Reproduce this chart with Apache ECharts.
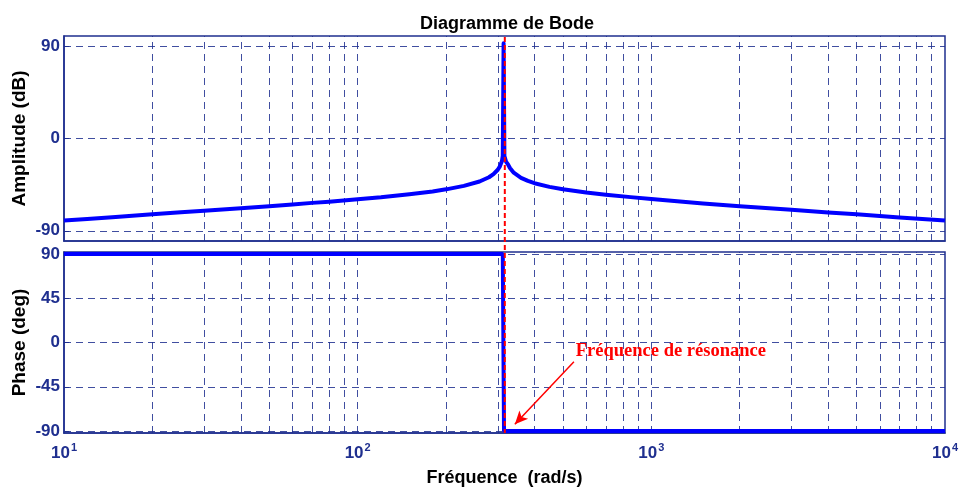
<!DOCTYPE html>
<html>
<head>
<meta charset="utf-8">
<script src="https://cdn.jsdelivr.net/npm/echarts@6/dist/echarts.min.js"></script>
<style>
  html, body { margin: 0; padding: 0; background: #ffffff; }
  #chart { width: 960px; height: 489px; }
</style>
</head>
<body>
<div id="chart"></div>
<script>
// Bode diagram of a resonant circuit: amplitude (dB) and phase (deg) vs. frequency (rad/s)

// Amplitude response
const ampFreq = [10, 12, 15, 20, 25, 30, 40, 50, 60, 70, 80, 100, 120, 150, 180, 200, 230,
                 260, 280, 290, 300, 305, 310, 312,
                 314, 316, 320, 325, 330, 340, 360, 380, 400, 450, 500, 600, 700, 850,
                 1000, 1500, 2000, 3000, 4000, 5000, 7000, 10000];
const ampDb   = [-80, -78.5, -76.5, -74, -72, -70.5, -68, -66, -64.3, -62.8, -61.6, -59.2, -57.4, -54.4, -51.7, -49.6, -46.2,
                 -42, -37.8, -34.8, -30.5, -27.2, -22, -17,
                 93, -17, -22.5, -25.2, -28.8, -33.4, -38.4, -41.4, -43.6, -47.2, -49.5, -52.7, -54.9, -57.2,
                 -59, -63.4, -66.1, -69.6, -72.1, -74, -77, -80];

// Phase response
const phaseFreq = [10, 312, 315, 10000];
const phaseDeg  = [90, 90, -90, -90];

// Resonance marker
const resonanceFreq = 317;

// Axis ticks
const ampTicks   = [-90, 0, 90];
const phaseTicks = [-90, -45, 0, 45, 90];
const freqGrid   = [20, 30, 40, 50, 60, 70, 80, 90, 100,
                    200, 300, 400, 500, 600, 700, 800, 900, 1000,
                    2000, 3000, 4000, 5000, 6000, 7000, 8000, 9000];

const NAVY = '#1f2f8f';
const SANS = '"Liberation Sans", Arial, Helvetica, sans-serif';

const gridLine = { color: NAVY, type: [7, 5], width: 1, opacity: 0.85 };

function gridMarks(yVals) {
  const v = freqGrid.map(f => ({ xAxis: f }));
  const h = yVals.map(y => ({ yAxis: y }));
  return {
    z: 1,
    silent: true,
    symbol: 'none',
    animation: false,
    label: { show: false },
    lineStyle: gridLine,
    emphasis: { disabled: true },
    data: v.concat(h)
  };
}

function yAxisCfg(idx, min, max, ticks, name) {
  return {
    type: 'value',
    gridIndex: idx,
    min: min,
    max: max,
    axisLine: { show: true, onZero: false, lineStyle: { color: NAVY, width: 1.5 } },
    axisTick: { show: true, inside: true, length: 5, customValues: ticks, lineStyle: { color: NAVY } },
    axisLabel: {
      customValues: ticks,
      color: NAVY, fontFamily: SANS, fontSize: 17, fontWeight: 'bold', margin: 4
    },
    splitLine: { show: false },
    name: name,
    nameLocation: 'middle',
    nameMoveOverlap: false,
    nameGap: 35,
    nameTextStyle: { color: '#000', fontFamily: SANS, fontSize: 19, fontWeight: 'bold' }
  };
}

const chart = echarts.init(document.getElementById('chart'), null, { renderer: 'canvas' });

const gridBase = {
  left: 64, right: 15, show: true, borderColor: NAVY, borderWidth: 1.5,
  containLabel: false, outerBoundsMode: 'none'
};

const option = {
  animation: false,
  backgroundColor: '#ffffff',
  title: {
    text: 'Diagramme de Bode',
    left: 502,
    top: 10,
    textAlign: 'center',
    textStyle: { color: '#000', fontFamily: SANS, fontSize: 18, fontWeight: 'bold' }
  },
  grid: [
    Object.assign({ top: 36, height: 205 }, gridBase),
    Object.assign({ top: 252, height: 181 }, gridBase)
  ],
  xAxis: [
    {
      type: 'log', logBase: 10, gridIndex: 0, min: 10, max: 10000,
      axisLine: { show: true, onZero: false, lineStyle: { color: NAVY, width: 1.5 } },
      axisTick: { show: false },
      axisLabel: { show: false },
      splitLine: { show: false },
      minorTick: { show: false },
      minorSplitLine: { show: false }
    },
    {
      type: 'log', logBase: 10, gridIndex: 1, min: 10, max: 10000,
      axisLine: { show: true, onZero: false, lineStyle: { color: NAVY, width: 1.5 } },
      axisTick: { show: false },
      splitLine: { show: false },
      minorTick: { show: false },
      minorSplitLine: { show: false },
      axisLabel: {
        margin: 10,
        formatter: function (v) {
          return '{b|10}{s|' + Math.round(Math.log10(v)) + '}';
        },
        rich: {
          b: { color: NAVY, fontFamily: SANS, fontSize: 17, fontWeight: 'bold', lineHeight: 20 },
          s: { color: NAVY, fontFamily: SANS, fontSize: 11, fontWeight: 'bold', lineHeight: 20, padding: [0, 0, 10, 1] }
        }
      },
      name: 'Fréquence  (rad/s)',
      nameLocation: 'middle',
      nameGap: 36,
      nameTextStyle: { color: '#000', fontFamily: SANS, fontSize: 18, fontWeight: 'bold' }
    }
  ],
  yAxis: [
    yAxisCfg(0, -100, 100, ampTicks, 'Amplitude (dB)'),
    yAxisCfg(1, -92, 92, phaseTicks, 'Phase (deg)')
  ],
  series: [
    {
      name: 'Amplitude',
      type: 'line',
      xAxisIndex: 0, yAxisIndex: 0,
      data: ampFreq.map((f, i) => [f, ampDb[i]]),
      showSymbol: false,
      smooth: false,
      clip: true,
      lineStyle: { color: '#0000ff', width: 4, join: 'round' },
      z: 3,
      markLine: gridMarks(ampTicks)
    },
    {
      name: 'Phase',
      type: 'line',
      xAxisIndex: 1, yAxisIndex: 1,
      data: phaseFreq.map((f, i) => [f, phaseDeg[i]]),
      showSymbol: false,
      smooth: false,
      clip: false,
      lineStyle: { color: '#0000ff', width: 4 },
      z: 3,
      markLine: gridMarks(phaseTicks)
    },
    {
      name: 'Annotation',
      type: 'line',
      xAxisIndex: 1, yAxisIndex: 1,
      data: [],
      markLine: {
        z: 6,
        silent: true,
        animation: false,
        symbol: ['none', 'arrow'],
        symbolSize: [9, 13],
        label: { show: false },
        lineStyle: { color: '#ff0000', type: 'solid', width: 1.5 },
        data: [[{ coord: [545, -19.5] }, { coord: [343, -83] }]]
      }
    }
  ]
};

chart.setOption(option);

// Resonance marker spanning both plots, and its caption
const markTop = chart.convertToPixel({ xAxisIndex: 0, yAxisIndex: 0 }, [resonanceFreq, 99]);
const markBot = chart.convertToPixel({ xAxisIndex: 1, yAxisIndex: 1 }, [resonanceFreq, -92]);
const capPos  = chart.convertToPixel({ xAxisIndex: 1, yAxisIndex: 1 }, [553, -9]);

chart.setOption({
  graphic: [
    {
      type: 'line',
      silent: true,
      z: 10,
      shape: { x1: markTop[0], y1: markTop[1], x2: markBot[0], y2: markBot[1] },
      style: { stroke: '#ff0000', lineWidth: 2, lineDash: [5, 3] }
    },
    {
      type: 'text',
      silent: true,
      z: 10,
      x: capPos[0],
      y: capPos[1],
      style: {
        text: 'Fréquence de résonance',
        fill: '#ff0000',
        font: 'bold 18.5px "Liberation Serif", "Times New Roman", serif',
        textAlign: 'left',
        textVerticalAlign: 'middle'
      }
    }
  ]
});
</script>
</body>
</html>
